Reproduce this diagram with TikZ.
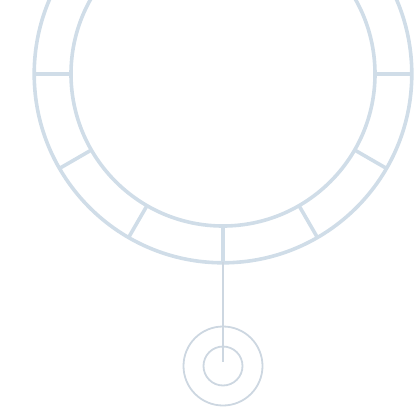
\documentclass[tikz,border=0pt]{standalone}
\usetikzlibrary{calc}
\definecolor{ringc}{HTML}{D0DDE8}
\definecolor{thinc}{HTML}{CDD7E1}
\tikzset{
  ring/.style={draw=ringc, line width=3.6pt},
  thin/.style={draw=thinc, line width=1.8pt}
}
\begin{document}
\begin{tikzpicture}[x=1pt,y=-1pt]
\useasboundingbox (0,0) rectangle (414,415);
\coordinate (c) at (223,74);
\coordinate (p) at (223,366);
\draw[ring] (c) circle[radius=188.8];
\draw[ring] (c) circle[radius=152];
\foreach \a in {0,30,60,90,120,150,180}{
  \draw[ring] ($(c)+(\a:152)$) -- ($(c)+(\a:188.8)$);
}
\coordinate (b) at (223,262);
\coordinate (e) at (223,362);
\draw[thin] (b) -- (e);
\draw[thin] (p) circle[radius=39.5];
\draw[thin] (p) circle[radius=19.5];
\end{tikzpicture}
\end{document}
